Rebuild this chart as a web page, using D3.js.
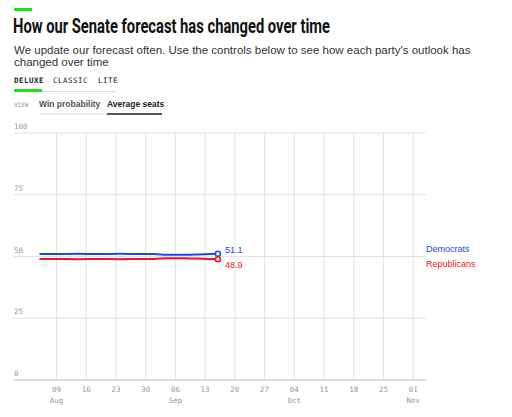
<!DOCTYPE html>
<html><head><meta charset="utf-8">
<script src="https://cdn.jsdelivr.net/npm/d3@7"></script>
<style>body{margin:0;background:#fff;font-family:"Helvetica",Arial,sans-serif}</style>
</head><body><svg id="c" width="512" height="417"></svg>
<script>
const dates=["2020-08-05","2020-08-09","2020-08-14","2020-08-19","2020-08-24","2020-08-29","2020-09-01","2020-09-04","2020-09-08","2020-09-11","2020-09-14","2020-09-16"];
const dem=[51.0,51.0,51.1,51.0,51.1,51.0,51.0,50.7,50.7,50.8,51.0,51.1];
const rep=[49.0,49.0,48.9,49.0,48.9,49.0,49.0,49.3,49.3,49.2,49.0,48.9];
const yTicks=[0,25,50,75,100];
const tickDates=["2020-08-09","2020-08-16","2020-08-23","2020-08-30","2020-09-06","2020-09-13","2020-09-20","2020-09-27","2020-10-04","2020-10-11","2020-10-18","2020-10-25","2020-11-01"];
const p=d3.timeParse("%Y-%m-%d");
const svg=d3.select("#c");
svg.append("rect").attr("x",14).attr("y",8).attr("width",18).attr("height",3).attr("fill","#19e619");
svg.append("text").attr("x",13).attr("y",33).text("How our Senate forecast has changed over time").attr("font-family","Roboto,sans-serif").attr("font-weight","bold").attr("font-size",20).attr("textLength",317).attr("lengthAdjust","spacingAndGlyphs").attr("fill","#111");
svg.append("text").attr("x",14).attr("y",54).text("We update our forecast often. Use the controls below to see how each party's outlook has").attr("font-size",11.5).attr("fill","#333");
svg.append("text").attr("x",14).attr("y",66).text("changed over time").attr("font-size",11.5).attr("fill","#333");
const mono="'DejaVu Sans Mono',monospace";
[["DELUXE",14,"bold"],["CLASSIC",53,"normal"],["LITE",98,"normal"]].forEach(([t,x,w])=>svg.append("text").attr("x",x).attr("y",83).text(t).attr("font-family",mono).attr("font-size",7.5).attr("font-weight",w).attr("letter-spacing",0.5).attr("fill","#222"));
svg.append("line").attr("x1",14).attr("x2",117).attr("y1",91.5).attr("y2",91.5).attr("stroke","#ddd");
svg.append("rect").attr("x",14).attr("y",89).attr("width",28).attr("height",3).attr("fill","#19e619");
svg.append("text").attr("x",14).attr("y",107).text("VIEW").attr("font-family",mono).attr("font-size",6).attr("fill","#999");
svg.append("text").attr("x",39).attr("y",107).text("Win probability").attr("font-size",8.5).attr("font-weight","bold").attr("fill","#555");
svg.append("text").attr("x",107).attr("y",107).text("Average seats").attr("font-size",8.5).attr("font-weight","bold").attr("fill","#222");
svg.append("line").attr("x1",39).attr("x2",162).attr("y1",114).attr("y2",114).attr("stroke","#ddd");
svg.append("line").attr("x1",107).attr("x2",162).attr("y1",114).attr("y2",114).attr("stroke","#222").attr("stroke-width",1.5);
const x=d3.scaleTime().domain([p("2020-07-30"),p("2020-11-04")]).range([14,426]);
const y=d3.scaleLinear().domain([0,100]).range([380,133]);
const g=svg.append("g");
tickDates.forEach(d=>g.append("line").attr("x1",x(p(d))).attr("x2",x(p(d))).attr("y1",133).attr("y2",380).attr("stroke","#e6e3dc"));
yTicks.forEach(t=>{
 g.append("line").attr("x1",14).attr("x2",426).attr("y1",y(t)).attr("y2",y(t)).attr("stroke",t==0?"#bbb":"#e6e3dc");
 g.append("text").attr("x",14).attr("y",y(t)-4).text(t).attr("font-family",mono).attr("font-size",7.5).attr("fill","#999");
});
const fmt=d3.timeFormat("%d");
tickDates.forEach((d,i)=>{
 const dd=p(d);
 g.append("text").attr("x",x(dd)).attr("y",392).attr("text-anchor","middle").text(fmt(dd)).attr("font-family",mono).attr("font-size",7.5).attr("fill","#999");
 if(i==0||dd.getDate()<=7) g.append("text").attr("x",x(dd)).attr("y",403).attr("text-anchor","middle").text(d3.timeFormat("%b")(dd)).attr("font-family",mono).attr("font-size",7.5).attr("fill","#999");
});
const line=vals=>d3.line().x((d,i)=>x(p(dates[i]))).y(d=>y(d)).curve(d3.curveMonotoneX)(vals);
[[dem,"#1c44f5","51.1",-1,"Democrats",252],[rep,"#f01515","48.9",9,"Republicans",267]].forEach(([v,c,lab,dy,nm,ly])=>{
 g.append("path").attr("d",line(v)).attr("fill","none").attr("stroke",c).attr("stroke-width",2);
 const lx=x(p(dates[dates.length-1])),lyv=y(v[v.length-1]);
 g.append("circle").attr("cx",lx).attr("cy",lyv).attr("r",2.5).attr("fill","#fff").attr("stroke",c).attr("stroke-width",1.5);
 g.append("text").attr("x",lx+7).attr("y",lyv+dy).text(lab).attr("font-size",9).attr("fill",c);
 g.append("text").attr("x",426).attr("y",ly).text(nm).attr("font-size",9).attr("fill",c);
});
</script></body></html>
